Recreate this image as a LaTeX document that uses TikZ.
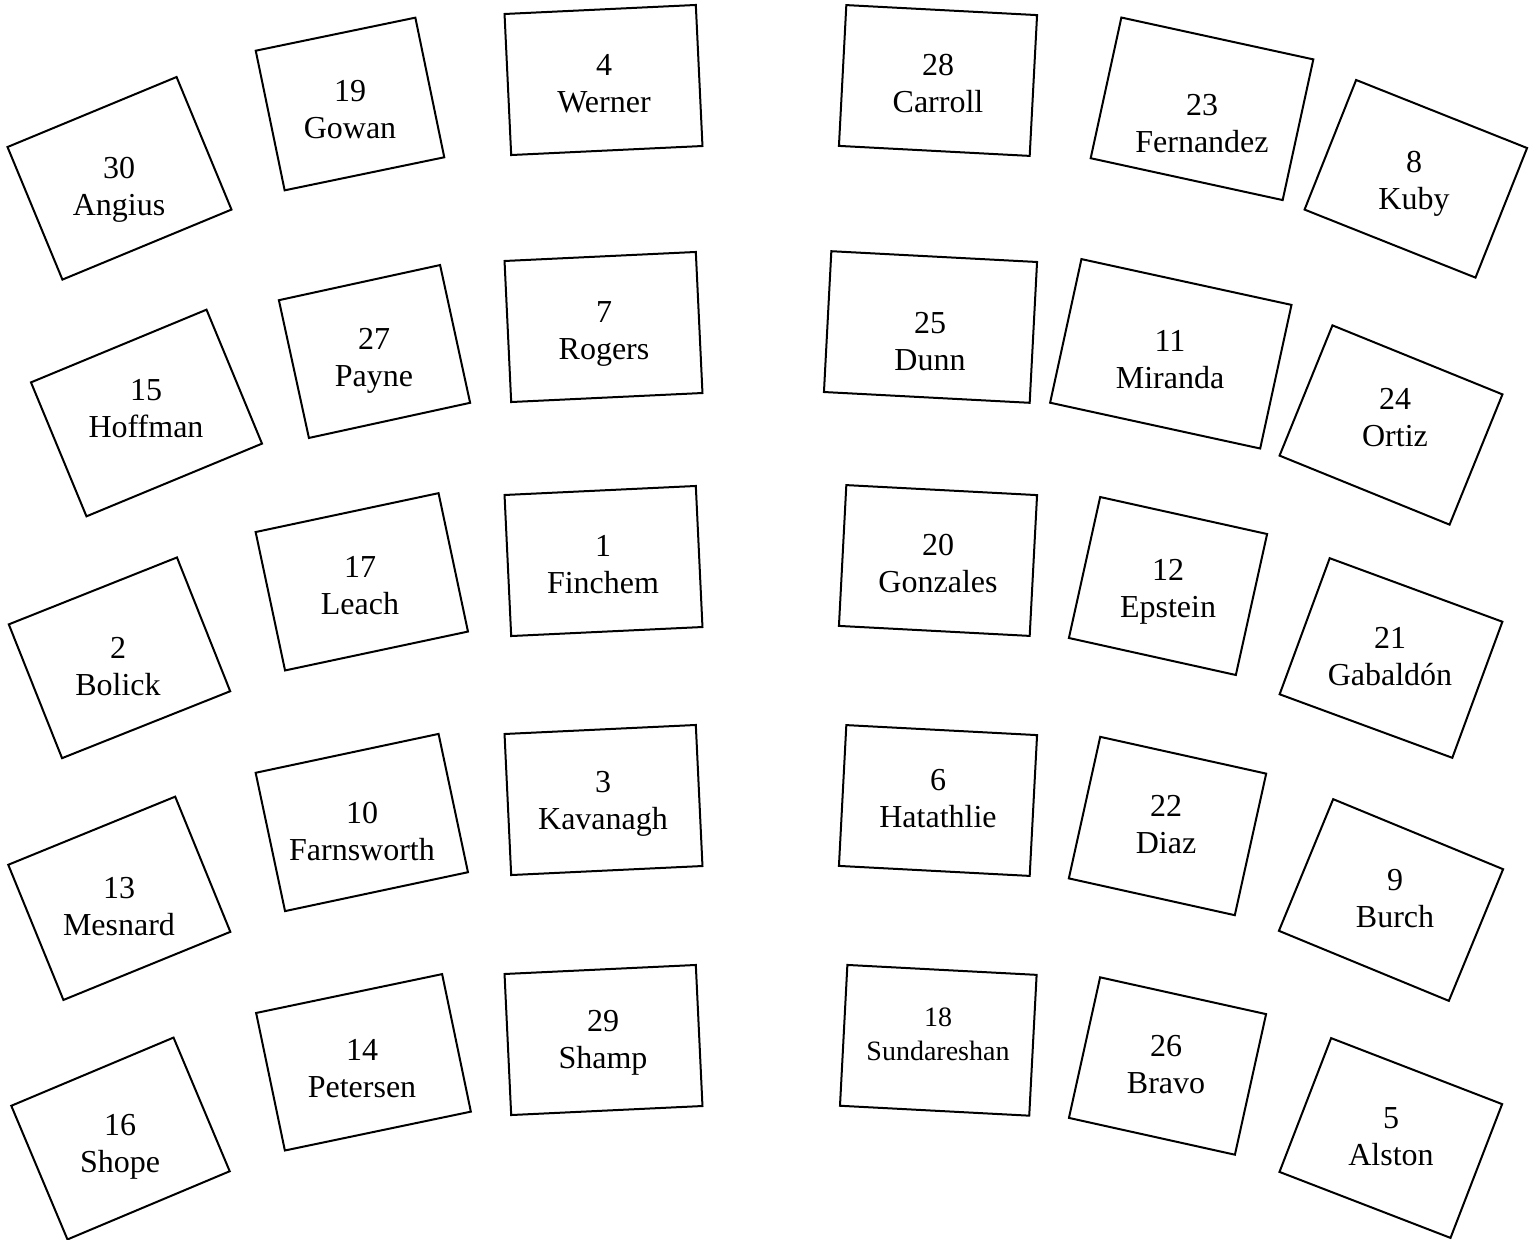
\documentclass[tikz,border=0pt]{standalone}
\usepackage{fontspec}
\setmainfont{Liberation Serif}
\begin{document}
\begin{tikzpicture}[x=1pt,y=-1pt,
  seatbox/.style={draw=black, line width=2pt, inner sep=0pt, outer sep=0pt},
  seatlbl/.style={align=center, font=\fontsize{32}{37}\selectfont, inner sep=0pt, anchor=base, yshift=-37pt},
  smalllbl/.style={align=center, font=\fontsize{28}{34}\selectfont, inner sep=0pt, anchor=base}]
\useasboundingbox (0,0) rectangle (1536,1239);
% column 1
\node[seatbox, rotate=22.5, minimum width=183, minimum height=143.5] (b30) at (119.5,178.3) {};
\node[seatlbl] (t30) at (119,178.3) {30\\Angius};
\node[seatbox, rotate=22.5, minimum width=190, minimum height=145] (b15) at (146.5,413) {};
\node[seatlbl] (t15) at (146,400.3) {15\\Hoffman};
\node[seatbox, rotate=21.7, minimum width=181, minimum height=144] (b2) at (119.5,657.8) {};
\node[seatlbl] (t2) at (118,658.3) {2\\Bolick};
\node[seatbox, rotate=22.2, minimum width=180.3, minimum height=146] (b13) at (119.3,898.3) {};
\node[seatlbl] (t13) at (119,898.3) {13\\Mesnard};
\node[seatbox, rotate=22.8, minimum width=176, minimum height=145] (b16) at (120.5,1138.5) {};
\node[seatlbl] (t16) at (120,1135.3) {16\\Shope};
% column 2
\node[seatbox, rotate=11.7, minimum width=163, minimum height=142.6] (b19) at (350,104) {};
\node[seatlbl] (t19) at (350,101.3) {19\\Gowan};
\node[seatbox, rotate=12.3, minimum width=165, minimum height=141] (b27) at (374.5,351.5) {};
\node[seatlbl] (t27) at (374,349.3) {27\\Payne};
\node[seatbox, rotate=12, minimum width=187, minimum height=141.5] (b17) at (361.8,581.8) {};
\node[seatlbl] (t17) at (360,577.3) {17\\Leach};
\node[seatbox, rotate=12, minimum width=187, minimum height=141.4] (b10) at (361.8,822.5) {};
\node[seatlbl] (t10) at (362,823.3) {10\\Farnsworth};
\node[seatbox, rotate=11.8, minimum width=190, minimum height=140.5] (b14) at (363.5,1062.3) {};
\node[seatlbl] (t14) at (362,1060.3) {14\\Petersen};
% column 3
\node[seatbox, rotate=2.7, minimum width=191.5, minimum height=141.2] (b4) at (603.5,80) {};
\node[seatlbl] (t4) at (604,75.3) {4\\Werner};
\node[seatbox, rotate=2.7, minimum width=191.5, minimum height=141.2] (b7) at (603.5,327) {};
\node[seatlbl] (t7) at (604,322.3) {7\\Rogers};
\node[seatbox, rotate=2.7, minimum width=191.5, minimum height=141.2] (b1) at (603.5,561) {};
\node[seatlbl] (t1) at (603,556.3) {1\\Finchem};
\node[seatbox, rotate=2.7, minimum width=191.5, minimum height=141.2] (b3) at (603.5,800) {};
\node[seatlbl] (t3) at (603,792.3) {3\\Kavanagh};
\node[seatbox, rotate=2.7, minimum width=191.5, minimum height=141.2] (b29) at (603.5,1040) {};
\node[seatlbl] (t29) at (603,1031.3) {29\\Shamp};
% column 4
\node[seatbox, rotate=-3, minimum width=191, minimum height=141] (b28) at (938,80.5) {};
\node[seatlbl] (t28) at (938,75.3) {28\\Carroll};
\node[seatbox, rotate=-3, minimum width=206, minimum height=141] (b25) at (930.5,327) {};
\node[seatlbl] (t25) at (930,333.3) {25\\Dunn};
\node[seatbox, rotate=-3, minimum width=191, minimum height=141] (b20) at (938,560.5) {};
\node[seatlbl] (t20) at (938,555.3) {20\\Gonzales};
\node[seatbox, rotate=-3, minimum width=191, minimum height=141] (b6) at (938,800.5) {};
\node[seatlbl] (t6) at (938,790.3) {6\\Hatathlie};
\node[seatbox, rotate=-3, minimum width=189.5, minimum height=141] (b18) at (938.3,1040.3) {};
\node[smalllbl] (t18) at (938,1060) {18\\Sundareshan};
% column 5
\node[seatbox, rotate=-12.3, minimum width=196.5, minimum height=144] (b23) at (1202,108.8) {};
\node[seatlbl] (t23) at (1202,115.3) {23\\Fernandez};
\node[seatbox, rotate=-12.3, minimum width=215, minimum height=147] (b11) at (1170.8,353.8) {};
\node[seatlbl] (t11) at (1170,351.3) {11\\Miranda};
\node[seatbox, rotate=-12.5, minimum width=171, minimum height=144.4] (b12) at (1168,586) {};
\node[seatlbl] (t12) at (1168,580.3) {12\\Epstein};
\node[seatbox, rotate=-12.5, minimum width=170, minimum height=145] (b22) at (1167.5,826) {};
\node[seatlbl] (t22) at (1166,816.3) {22\\Diaz};
\node[seatbox, rotate=-12.5, minimum width=170, minimum height=144] (b26) at (1167.5,1066) {};
\node[seatlbl] (t26) at (1166,1056.3) {26\\Bravo};
% column 6
\node[seatbox, rotate=-21.7, minimum width=184, minimum height=139.5] (b8) at (1415.8,178.8) {};
\node[seatlbl] (t8) at (1414,172.3) {8\\Kuby};
\node[seatbox, rotate=-22.1, minimum width=183.5, minimum height=140.6] (b24) at (1391,425) {};
\node[seatlbl] (t24) at (1395,409.3) {24\\Ortiz};
\node[seatbox, rotate=-20.2, minimum width=184, minimum height=145] (b21) at (1391,658) {};
\node[seatlbl] (t21) at (1390,648.3) {21\\Gabaldón};
\node[seatbox, rotate=-22.4, minimum width=183.8, minimum height=142.4] (b9) at (1391,900) {};
\node[seatlbl] (t9) at (1395,890.3) {9\\Burch};
\node[seatbox, rotate=-21.1, minimum width=183.3, minimum height=143.4] (b5) at (1390.8,1138) {};
\node[seatlbl] (t5) at (1391,1128.3) {5\\Alston};
\end{tikzpicture}
\end{document}
